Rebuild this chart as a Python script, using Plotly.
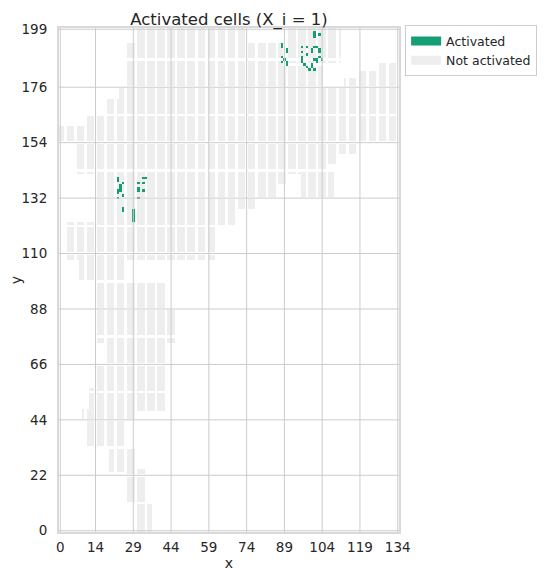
import numpy as np
import plotly.graph_objects as go

# grid size (cells)
n_cols = 135
n_rows = 200

# land cover: (x0, x1, y0, y1), inclusive cell ranges
land_rects = [
    # northern body
    (30, 73, 193, 199),
    (27, 88, 184, 193),
    (27, 104, 176, 184),
    (90, 111, 186, 199),
    (24, 118, 171, 176),
    (18, 118, 164, 171),
    (11, 134, 160, 164),
    (0, 120, 154, 160),
    (112, 134, 155, 176),
    (113, 134, 176, 179),
    (118, 134, 179, 182),
    (126, 134, 182, 185),
    (7, 117, 150, 154),
    (7, 110, 146, 150),
    (7, 105, 142, 146),
    (15, 90, 138, 142),
    (15, 86, 133, 138),
    (96, 108, 133, 142),
    (15, 78, 128, 133),
    (15, 70, 122, 128),
    (2, 62, 108, 122),
    # southern lobe
    (8, 26, 100, 108),
    (15, 42, 88, 99),
    (15, 45, 75, 88),
    (19, 41, 65, 75),
    (15, 41, 56, 65),
    (12, 41, 48, 56),
    (9, 29, 44, 48),
    (11, 25, 33, 44),
    (20, 29, 24, 33),
    (26, 34, 11, 24),
    (30, 36, 0, 11),
]

# empty street columns / rows between blocks
street_cols = [2, 6, 10, 14, 18, 22, 26, 30, 34, 38, 42, 46, 50, 54, 58, 62, 66,
               70, 74, 78, 82, 86, 90, 94, 98, 102, 106, 110, 114, 118, 122, 126,
               130, 134]
street_rows = [11, 22, 33, 44, 55, 66, 77, 88, 99, 110, 121, 132, 143, 154, 165,
               176, 187]

# activated cells (x, y)
activated_x = [88, 88, 90, 90, 88, 89, 88, 90, 90,
               101, 101, 101, 103,
               96, 98, 100, 101, 102, 103, 103, 96, 98, 100,
               96, 96, 96, 101, 102, 104, 103, 97, 98, 100, 100, 102, 99, 101,
               23, 23, 25, 24, 24, 23, 24, 23, 23, 25,
               33, 34, 31, 33, 31, 31, 33, 31,
               25, 25, 29, 29, 29, 29, 29]
activated_y = [193, 192, 191, 190, 188, 187, 186, 186, 185,
               196, 197, 198, 197,
               192, 192, 191, 192, 192, 191, 190, 190, 189, 190,
               188, 187, 186, 187, 187, 187, 188, 185, 184, 185, 184, 186, 183, 183,
               140, 139, 138, 137, 136, 135, 135, 134, 132, 133,
               140, 140, 138, 138, 136, 135, 135, 132,
               127, 128, 123, 124, 125, 126, 127]

x_ticks = [0, 14, 29, 44, 59, 74, 89, 104, 119, 134]
y_ticks = [0, 22, 44, 66, 88, 110, 132, 154, 176, 199]

green = "#159e74"
grey = "#eeeeee"
grid_col = "#cccccc"
text_col = "#262626"

# build cell grid: nan = empty, 0 = not activated, 1 = activated
land = np.zeros((n_rows, n_cols), dtype=bool)
for x0, x1, y0, y1 in land_rects:
    land[y0:y1 + 1, x0:x1 + 1] = True
land[:, street_cols] = False
land[street_rows, :] = False

z = np.full((n_rows, n_cols), np.nan)
z[land] = 0
z[activated_y, activated_x] = 1

fig = go.Figure()
fig.add_trace(go.Heatmap(
    z=z,
    x=list(range(n_cols)),
    y=list(range(n_rows)),
    colorscale=[[0, grey], [0.5, grey], [0.5, green], [1, green]],
    zmin=0, zmax=1,
    showscale=False,
    hoverinfo="skip",
))

# legend entries
for name, col in [("Activated", green), ("Not activated", grey)]:
    fig.add_trace(go.Scatter(x=[None], y=[None], mode="lines", name=name,
                             line=dict(color=col, width=9)))

# grid lines drawn over the cells
for t in x_ticks:
    fig.add_shape(type="line", x0=t, x1=t, y0=0, y1=1, yref="y domain",
                  line=dict(color=grid_col, width=1), layer="above")
for t in y_ticks:
    fig.add_shape(type="line", y0=t, y1=t, x0=0, x1=1, xref="x domain",
                  line=dict(color=grid_col, width=1), layer="above")

fig.update_layout(
    width=550, height=580,
    margin=dict(l=51, r=159, t=20, b=56),
    paper_bgcolor="white", plot_bgcolor="white",
    font=dict(family="DejaVu Sans", size=13, color=text_col),
    title=dict(text="Activated cells (X_i = 1)", x=0.5, xref="paper",
               y=0.981, yref="container", yanchor="middle",
               font=dict(size=16.5, color=text_col)),
    legend=dict(x=1.018, y=1.005, xanchor="left", yanchor="top",
                bgcolor="white", bordercolor=grid_col, borderwidth=1,
                font=dict(size=12.5, color=text_col), tracegroupgap=0),
    showlegend=True,
)
fig.update_xaxes(range=[-0.5, n_cols - 0.5], tickvals=x_ticks, showgrid=False,
                 zeroline=False, showline=True, mirror=True, linecolor="#d9d9d9",
                 linewidth=2, ticks="outside", ticklen=2, tickcolor="rgba(0,0,0,0)",
                 tickfont=dict(size=13.5), automargin=False,
                 title=dict(text="x", standoff=4, font=dict(size=14)))
fig.update_yaxes(range=[-0.5, n_rows - 0.5], tickvals=y_ticks, showgrid=False,
                 zeroline=False, showline=True, mirror=True, linecolor="#d9d9d9",
                 linewidth=2, ticks="outside", ticklen=7, tickcolor="rgba(0,0,0,0)",
                 tickfont=dict(size=13.5), automargin=False,
                 title=dict(text="y", standoff=14, font=dict(size=14)))

fig.write_html("out.html")
